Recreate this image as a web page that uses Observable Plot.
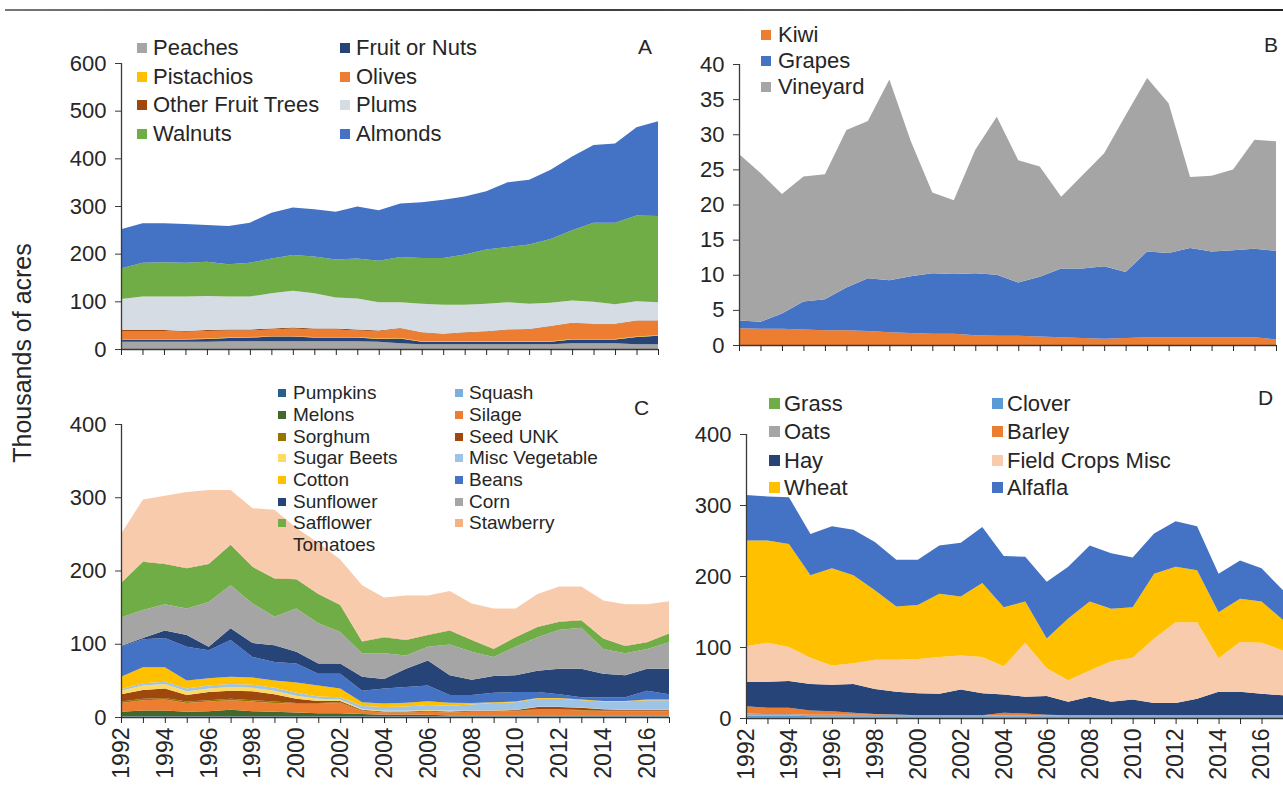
<!DOCTYPE html>
<html><head><meta charset="utf-8">
<script src="https://cdn.jsdelivr.net/npm/d3@7"></script>
<script src="https://cdn.jsdelivr.net/npm/@observablehq/plot@0.6"></script>
<style>
body{margin:0;background:#fff;font-family:"Liberation Sans",Arial,sans-serif;}
#wrap{position:relative;width:1283px;height:789px;overflow:hidden;background:#fff;}
.panel{position:absolute;}
.leg{position:absolute;white-space:nowrap;color:#262626;display:flex;align-items:center;}
.lbl{position:absolute;color:#262626;white-space:nowrap;}
</style></head><body><div id="wrap"></div>
<script>
// ---------- data ----------
const years = [1992,1993,1994,1995,1996,1997,1998,1999,2000,2001,2002,2003,2004,2005,2006,2007,2008,2009,2010,2011,2012,2013,2014,2015,2016,2017];
const yearLabels = [1992,1994,1996,1998,2000,2002,2004,2006,2008,2010,2012,2014,2016];

// Panel A (thousands of acres)
const aSeries = ["Peaches","Fruit or Nuts","Pistachios","Olives","Other Fruit Trees","Plums","Walnuts","Almonds"];
const aColors = ["#a5a5a5","#264478","#ffc000","#ed7d31","#9e480e","#d6dce4","#70ad47","#4472c4"];
const peaches    = [15,15,15,15,15,16,16,16,16,16,16,16,15,12,10,10,10,10,10,10,10,12,12,12,10,10];
const fruitNuts  = [5,5,5,5,6,7,8,10,10,8,8,8,6,10,5,5,5,5,5,5,5,8,8,8,15,18];
const pistachios = [1,1,1,1,1,1,1,1,1,1,1,1,1,1,1,1,1,1,1,1,1,1,1,1,1,1];
const olives     = [17,17,17,15,16,15,14,14,16,16,16,14,15,20,18,15,18,20,24,25,31,33,31,31,33,30];
const otherFruit = [2,2,2,2,2,2,2,2,2,2,2,2,2,1,1,1,1,1,1,1,1,1,1,1,1,1];
const plums      = [65,70,70,72,71,69,69,74,77,74,65,65,59,54,60,61,58,58,57,53,49,47,46,41,40,38];
const walnuts    = [64,71,72,71,72,68,71,73,75,77,80,84,87,95,96,98,105,114,116,124,134,147,166,171,180,181];
const almonds    = [82,83,82,81,77,80,84,96,100,99,100,109,106,112,117,122,122,122,136,136,145,155,163,166,185,199];
const aTicks = [0,100,200,300,400,500,600];

// Panel B
const bSeries = ["Kiwi","Grapes","Vineyard"];
const bColors = ["#ed7d31","#4472c4","#a5a5a5"];
const kiwi     = [2.4,2.3,2.3,2.2,2.1,2.1,2.0,1.8,1.7,1.6,1.6,1.4,1.3,1.3,1.2,1.1,1.0,0.9,1.0,1.1,1.1,1.1,1.1,1.1,1.1,0.8];
const grapes   = [1.1,1.0,2.2,4.0,4.4,6.1,7.5,7.4,8.1,8.6,8.5,8.8,8.7,7.6,8.5,9.8,9.9,10.3,9.4,12.2,12.0,12.7,12.2,12.4,12.6,12.6];
const vineyard = [23.7,21.2,17.0,17.8,17.8,22.4,22.4,28.6,19.2,11.5,10.5,17.6,22.5,17.4,15.7,10.2,13.3,16.1,22.3,24.7,21.3,10.1,10.8,11.5,15.5,15.6];
const bTicks = [0,5,10,15,20,25,30,35,40];

// Panel C
const cSeries = ["Pumpkins","Squash","Melons","Silage","Sorghum","Seed UNK","Sugar Beets","Misc Vegetable","Cotton","Beans","Sunflower","Corn","Safflower","Stawberry","Tomatoes"];
const cColors = ["#255e91","#7cafdd","#43682b","#ed7d31","#997300","#9e480e","#ffd966","#9dc3e6","#ffc000","#4472c4","#264478","#a5a5a5","#70ad47","#f4b183","#f8cbad"];
const pumpkins   = [0.5,0.5,0.5,0.5,0.5,0.5,0.5,0.5,0.5,0.5,0.5,0.5,0.5,0.5,0.5,0.5,0.5,0.5,0.5,0.5,0.5,0.5,0.5,0.5,0.5,0.5];
const squash     = [0.5,0.5,0.5,0.5,0.5,0.5,0.5,0.5,0.5,0.5,0.5,0.5,0.5,0.5,0.5,0.5,0.5,0.5,0.5,0.5,0.5,0.5,0.5,0.5,0.5,0.5];
const melons     = [6,8,8,6,7,9,7,6,5,4,4,3,2,2,2,1,1,1,1,1,1,1,1,1,1,1];
const silage     = [12,14,15,12,13,13,13,12,12,13,14,4,3,3,4,4,5,5,6,8,8,7,6,6,6,6];
const sorghum    = [2,2,2,2,2,2,2,2,1,1,1,1,0.5,0.5,0.5,0.5,0.5,0.5,0.5,0.5,0.5,0.5,0.5,0.5,0.5,0.5];
const seedUnk    = [10,12,13,9,11,11,12,10,6,3,2,1,1,1,1,1,1,1,1,3,3,3,2,1,1,1];
const sugarBeets = [5,6,6,5,5,5,5,5,4,3,2,1,1,1,1,1,0.5,0.5,0.5,0.5,0.5,0.5,0.5,0.5,0.5,0.5];
const miscVeg    = [2,3,3,4,4,4,4,4,4,3,3,4,5,6,7,7,8,10,10,11,11,10,10,11,13,13];
const cotton     = [17,22,20,11,10,10,10,10,14,15,12,5,5,5,5,4,2,1,1,1,1,1,1,1,1,1];
const beans      = [41,38,40,46,38,50,28,25,26,16,20,16,20.5,21.5,21.5,10.5,11,13,13,8,5,3,5,5,12,7];
const sunflower  = [1,2,10,16,5,16,19,23,16,14,14,19,13,25,34,27,21,23,23,29,35,39,32,30,30,35];
const corn       = [39,38,36,36,61,59,54,39,59,55,43,32,35,18,19,42,38,26,39,46,53,56,34,30,27,36];
const safflower  = [47,66,55,55,52,55,50,52,40,40,37,16,22,21,16,19,16,11,13,14,11,10,14,10,9,12];
const stawberry  = [1,1,1,1,1,1,1,1,1,1,1,1,1,1,1,1,1,1,1,1,1,1,1,1,1,1];
const tomatoes   = [66,84,92,103,100,74,79,93,69,69,61,76,53,60,53,53,49,54,38,44,47,45,51,56,51,43];
const cTicks = [0,100,200,300,400];

// Panel D
const dSeries = ["Grass","Clover","Oats","Barley","Hay","Field Crops Misc","Wheat","Alfafla"];
const dColors = ["#70ad47","#5b9bd5","#a5a5a5","#ed7d31","#264478","#f8cbad","#ffc000","#4472c4"];
const grass   = [0.5,0.5,0.5,0.5,0.5,0.5,0.5,0.5,0.5,0.5,0.5,0.5,0.5,0.5,0.5,0.5,0.5,0.5,0.5,0.5,0.5,0.5,0.5,0.5,0.5,0.5];
const clover  = [3,3,3,2,2,2,2,2,2,2,2,2,2,2,2,2,2,2,2,2,2,2,2,2,2,2];
const oats    = [3,2,2,2,2,2,2,2,1,1,1,1,1,1,1,1,1,1,1,1,1,1,1,1,1,1];
const barley  = [10,9,9,6,5,3,1,0.5,0.5,0.5,0.5,0.5,4,3,1,0.5,0.5,0.5,0.5,0.5,0.5,0.5,0.5,0.5,0.5,0.5];
const hay     = [34.5,36.5,37.5,37.5,37.5,40.5,35.5,32,31,30,36,31,25.5,23.5,26.5,19,26,19,22,17,17,23,33,33,30,28];
const fieldMisc = [50,55,48,37,27,29,41,45,48,52,48,51,40,76,39,30,37,57,59,91,114,108,47,70,72,63];
const wheat   = [149,144,145,116,137,124,98,75,76,89,83,104,83,58,42,87,97,74,71,91,78,73,65,61,58,43];
const alfalfa = [64,62,66,58,59,64,68,66,64,68,76,79,72,63,80,73,79,78,70,57,64,62,54,54,47,42];
const dTicks = [0,100,200,300,400];

// ---------- drawing ----------
const FONT = '"Liberation Sans", Arial, sans-serif';
const INK = "#262626";
const wrap = document.getElementById("wrap");

function drawPanel(cfg){
  const data = [];
  cfg.series.forEach((s,k)=> cfg.values[k].forEach((v,i)=> data.push({year: years[i], series: s, value: v})));
  const rot = cfg.xLabels;
  const plot = Plot.plot({
    width: cfg.w, height: cfg.h,
    marginLeft: cfg.ml, marginRight: cfg.mr, marginTop: cfg.mt, marginBottom: cfg.mb,
    x: {domain: [1992, 2017], axis: null},
    y: {domain: cfg.yDomain, axis: null},
    color: {domain: cfg.series, range: cfg.colors},
    style: {fontFamily: FONT, fontSize: "22px", color: INK, background: "transparent", overflow: "visible"},
    marks: [
      Plot.areaY(data, {x: "year", y: "value", fill: "series", order: cfg.series}),
      Plot.ruleX([1992], {stroke: "#3a3a3a", strokeWidth: 1.3}),
      Plot.ruleY([0], {stroke: "#3a3a3a", strokeWidth: 1.3}),
      Plot.axisY({ticks: cfg.yTicks, tickSize: 6, tickPadding: 9, label: null, fontSize: 22, stroke: "#3a3a3a"}),
      Plot.axisX({ticks: years, tickSize: 6, tickPadding: 4, label: null, fontSize: 23,
        tickRotate: rot ? -90 : 0,
        tickFormat: d => (rot && yearLabels.includes(d)) ? String(d) : ""})
    ]
  });
  plot.classList.add("panel");
  plot.style.left = cfg.left + "px";
  plot.style.top = cfg.top + "px";
  wrap.appendChild(plot);
}

drawPanel({series: aSeries, colors: aColors, values: [peaches,fruitNuts,pistachios,olives,otherFruit,plums,walnuts,almonds],
  yDomain: [0,600], yTicks: aTicks, left: 0, top: 40, w: 683, h: 350, ml: 121, mr: 25, mt: 23, mb: 41, xLabels: false});
drawPanel({series: bSeries, colors: bColors, values: [kiwi,grapes,vineyard],
  yDomain: [0,40], yTicks: bTicks, left: 683, top: 40, w: 600, h: 350, ml: 56, mr: 7, mt: 24, mb: 45, xLabels: false});
drawPanel({series: cSeries, colors: cColors, values: [pumpkins,squash,melons,silage,sorghum,seedUnk,sugarBeets,miscVeg,cotton,beans,sunflower,corn,safflower,stawberry,tomatoes],
  yDomain: [0,400], yTicks: cTicks, left: 0, top: 390, w: 683, h: 399, ml: 121, mr: 14, mt: 34, mb: 72, xLabels: true});
drawPanel({series: dSeries, colors: dColors, values: [grass,clover,oats,barley,hay,fieldMisc,wheat,alfalfa],
  yDomain: [0,400], yTicks: dTicks, left: 683, top: 390, w: 600, h: 399, ml: 63, mr: 0, mt: 44, mb: 71, xLabels: true});

// ---------- legends ----------
function legendItem(label, color, sqLeft, cy, sq, textLeft, fs){
  const d = document.createElement("div");
  d.className = "leg";
  d.style.left = sqLeft + "px";
  d.style.top = (cy - fs*0.6) + "px";
  d.style.height = (fs*1.2) + "px";
  d.style.fontSize = fs + "px";
  const s = document.createElement("span");
  s.style.cssText = `display:inline-block;width:${sq}px;height:${sq}px;background:${color||"transparent"};margin-right:${textLeft-sqLeft-sq}px;`;
  d.appendChild(s);
  const t = document.createElement("span");
  t.textContent = label;
  d.appendChild(t);
  wrap.appendChild(d);
}
function legendGrid(series, colors, cols, rows, sq, fs, noSwatch){
  series.forEach((s,k)=>{
    const c = cols[k % cols.length], r = rows[Math.floor(k / cols.length)];
    legendItem(s, noSwatch && noSwatch.includes(s) ? null : colors[k], c[0], r, sq, c[1], fs);
  });
}
legendGrid(aSeries, aColors, [[137,153],[340,356]], [48,77,105,134], 10, 22);
legendGrid(bSeries, bColors, [[761,778]], [35,61,87], 10, 22);
legendGrid(cSeries, cColors, [[278,293],[455,469]], [393,415,437,458,480,502,523,545], 8, 19, ["Tomatoes"]);
legendGrid(dSeries, dColors, [[769,784],[992,1007]], [404,432,461,488], 11, 22);

function label(text, x, cy, fs, extra){
  const d = document.createElement("div");
  d.className = "lbl";
  d.textContent = text;
  d.style.left = x + "px";
  d.style.top = (cy - fs*0.6) + "px";
  d.style.fontSize = fs + "px";
  d.style.lineHeight = (fs*1.2) + "px";
  if (extra) Object.assign(d.style, extra);
  wrap.appendChild(d);
}
label("A", 638, 47, 21);
label("B", 1264, 45, 21);
label("C", 634, 408, 21);
label("D", 1258, 398, 21);

// y-axis title
const yt = document.createElement("div");
yt.className = "lbl";
yt.textContent = "Thousands of acres";
yt.style.fontSize = "25px";
yt.style.left = "22px"; yt.style.top = "353px";
yt.style.transform = "translate(-50%,-50%) rotate(-90deg)";
wrap.appendChild(yt);

// top rule
const tr = document.createElement("div");
tr.style.cssText = "position:absolute;left:5px;top:9px;width:1278px;height:2px;background:linear-gradient(90deg,#777,#333 40%,#555 60%,#222);";
wrap.appendChild(tr);
</script></body></html>
